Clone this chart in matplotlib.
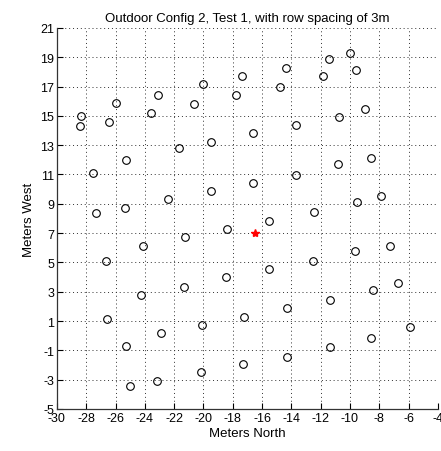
import matplotlib
matplotlib.use("Agg")
import matplotlib.pyplot as plt

plt.rcParams['font.family'] = ['Liberation Sans', 'DejaVu Sans']
plt.rcParams['axes.unicode_minus'] = False

# tree positions (meters north, meters west)
north = [-28.35, -28.4, -27.55, -27.3, -26.45, -26.0, -25.25, -25.35,
         -23.55, -23.1, -21.7, -22.4, -20.65, -20.0, -19.5, -19.5,
         -17.75, -17.35, -14.4, -14.75, -16.6, -13.65, -11.45, -11.85,
         -10.0, -9.6, -9.0, -10.75, -16.6, -13.65, -10.8, -8.55,
         -7.85, -9.55, -12.45, -21.25, -18.4, -24.1, -26.65, -18.45,
         -21.3, -24.25, -26.6, -20.1, -22.9, -25.3, -20.2, -23.15,
         -25.0, -15.5, -9.65, -7.3, -12.5, -15.5, -6.7, -8.4,
         -11.35, -14.3, -17.25, -5.9, -8.55, -11.35, -14.3, -17.3]
west = [15.0, 14.3, 11.1, 8.4, 14.55, 15.85, 12.0, 8.7,
        15.2, 16.45, 12.8, 9.3, 15.8, 17.15, 13.25, 9.85,
        16.4, 17.7, 18.25, 16.95, 13.8, 14.4, 18.85, 17.7,
        19.3, 18.1, 15.45, 14.95, 10.4, 10.95, 11.7, 12.1,
        9.55, 9.1, 8.45, 6.75, 7.3, 6.1, 5.1, 4.0,
        3.3, 2.8, 1.15, 0.75, 0.15, -0.7, -2.5, -3.1,
        -3.45, 7.8, 5.8, 6.15, 5.1, 4.55, 3.6, 3.15,
        2.45, 1.9, 1.3, 0.6, -0.15, -0.8, -1.45, -1.95]

# receiver position
rx_north = [-16.5]
rx_west = [7.0]

xticks = list(range(-30, -3, 2))
yticks = list(range(-5, 22, 2))

fig = plt.figure(figsize=(4.41, 4.52), dpi=100)
ax = fig.add_axes([0.129, 0.093, 0.864, 0.843])

ax.plot(north, west, 'o', markerfacecolor='none', markeredgecolor='k',
        markersize=5.5, markeredgewidth=0.8, linestyle='none')
ax.plot(rx_north, rx_west, '*', color='red', markersize=6, linestyle='none')

ax.set_xlim(-30, -4)
ax.set_ylim(-5, 21)
ax.set_xticks(xticks)
ax.set_yticks(yticks)
ax.tick_params(direction='in', length=4, width=0.8, labelsize=9, pad=2)
ax.grid(True, color='#303030', linestyle=(0, (1, 3)), linewidth=0.7)
ax.set_axisbelow(True)

for side in ['top', 'right']:
    ax.spines[side].set_visible(False)
for side in ['left', 'bottom']:
    ax.spines[side].set_linewidth(0.9)
    ax.spines[side].set_color('#333333')

ax.set_title('Outdoor Config 2, Test 1, with row spacing of 3m', fontsize=9.5, pad=5)
ax.set_xlabel('Meters North', fontsize=9.5, labelpad=2)
ax.set_ylabel('Meters West', fontsize=9.5, labelpad=4)

fig.savefig('out.png', dpi=100)
